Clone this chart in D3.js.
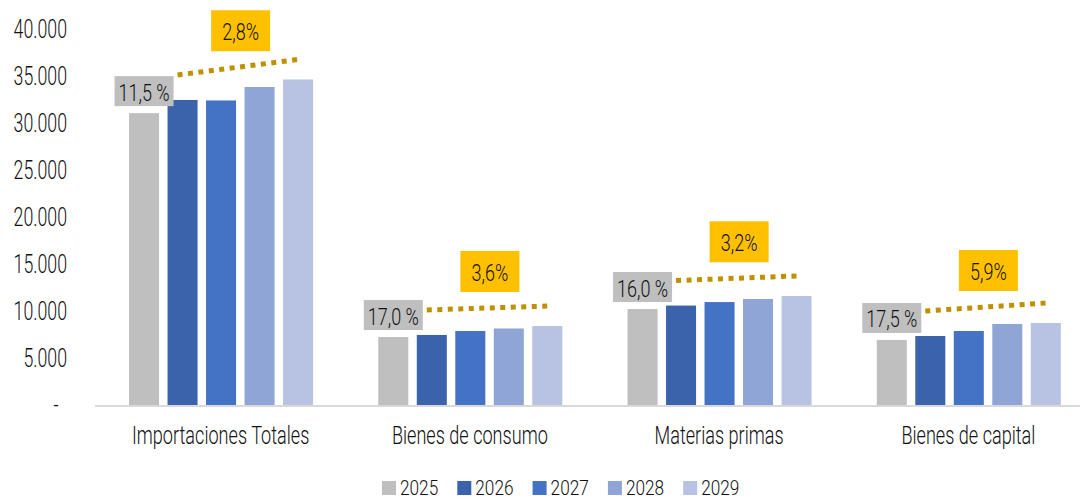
<!DOCTYPE html>
<html>
<head>
<meta charset="utf-8">
<script src="https://cdn.jsdelivr.net/npm/d3@7"></script>
<style>
  body { margin: 0; background: #fff; }
  svg text { font-family: "Roboto", "Liberation Sans", sans-serif; font-weight: 300; fill: #111; }
</style>
</head>
<body>
<div id="chart"></div>
<script>
// chart data
const categories = ['Importaciones Totales', 'Bienes de consumo', 'Materias primas', 'Bienes de capital'];
const years = ['2025', '2026', '2027', '2028', '2029'];
const values = [
  [31050, 32450, 32400, 33830, 34630],
  [7230, 7450, 7870, 8140, 8400],
  [10210, 10580, 10950, 11280, 11600],
  [6920, 7340, 7870, 8620, 8720]
];
const shareLabels = ['11,5 %', '17,0 %', '16,0 %', '17,5 %'];
const growthLabels = ['2,8%', '3,6%', '3,2%', '5,9%'];
const yTicks = [0, 5000, 10000, 15000, 20000, 25000, 30000, 35000, 40000];
const yTickLabels = ['-', '5.000', '10.000', '15.000', '20.000', '25.000', '30.000', '35.000', '40.000'];
const colors = ['#bfbfbf', '#3a63ac', '#4472c4', '#8fa5d6', '#b8c3e3'];

const width = 1080, height = 499;
const squeeze = 0.71; // no condensed font installed, so squeeze horizontally

const svg = d3.select('#chart').append('svg')
  .attr('width', width)
  .attr('height', height);

// text squeezed around its own anchor point
function label(parent, x, y, str, size, anchor, sx) {
  return parent.append('text')
    .attr('transform', `translate(${x},${y}) scale(${sx || squeeze},1)`)
    .attr('text-anchor', anchor || 'middle')
    .attr('dominant-baseline', 'central')
    .attr('font-size', size)
    .text(str);
}

const y = d3.scaleLinear().domain([0, 40000]).range([405, 29]);
const x0 = d3.scaleBand().domain(categories).range([96, 1093]);
const x1 = d3.scaleBand().domain(years)
  .range([28.8, 28.8 + 192.5])
  .paddingInner(0.22)
  .paddingOuter(0.11);

// y axis labels (no line)
const yAxis = svg.append('g')
  .attr('transform', 'translate(67,0)')
  .call(d3.axisLeft(y).tickValues(yTicks).tickSize(0).tickPadding(0)
    .tickFormat((d, i) => yTickLabels[i]));
yAxis.select('.domain').remove();
yAxis.selectAll('text')
  .attr('font-size', 25)
  .attr('fill', '#111')
  .attr('font-family', null)
  .attr('transform', `scale(${squeeze},1)`)
  .attr('dx', d => d === 0 ? -12 : 0);

// baseline
svg.append('line')
  .attr('x1', 95).attr('x2', 1080)
  .attr('y1', y(0) + 1).attr('y2', y(0) + 1)
  .attr('stroke', '#d9d9d9')
  .attr('stroke-width', 2);

// bars
const groups = svg.selectAll('g.cat')
  .data(categories)
  .join('g')
  .attr('class', 'cat')
  .attr('transform', d => `translate(${x0(d)},0)`);

groups.selectAll('rect')
  .data((d, i) => values[i].map((v, j) => ({ year: years[j], v, j })))
  .join('rect')
  .attr('x', d => x1(d.year))
  .attr('width', x1.bandwidth())
  .attr('y', d => y(d.v))
  .attr('height', d => y(0) - y(d.v))
  .attr('fill', d => colors[d.j]);

// category labels
svg.append('g')
  .attr('transform', `translate(0,${y(0)})`)
  .call(d3.axisBottom(x0).tickSize(0).tickPadding(21))
  .call(g => g.select('.domain').remove())
  .selectAll('text')
  .attr('font-size', 25.5)
  .attr('fill', '#111')
  .attr('font-family', null)
  .attr('transform', `scale(${squeeze},1)`);

// annotations: share box, trend line, growth box
categories.forEach((c, i) => {
  const g = svg.append('g').attr('transform', `translate(${x0(c)},0)`);
  const v = values[i];
  const cx25 = x1('2025') + x1.bandwidth() / 2;
  const boxW = 59, boxH = 30;
  const boxBottom = y(v[0]) - 7;
  g.append('rect')
    .attr('x', cx25 - boxW / 2).attr('y', boxBottom - boxH)
    .attr('width', boxW).attr('height', boxH)
    .attr('fill', '#bfbfbf');
  label(g, cx25, boxBottom - boxH / 2 + 1, shareLabels[i], 24, 'middle', 0.75);

  const lx1 = cx25 + boxW / 2 + 4;
  const ly1 = y(v[1]) - 25;
  const lx2 = x1('2029') + x1.bandwidth() / 2;
  const ly2 = y(v[4]) - 20;
  g.append('line')
    .attr('x1', lx1).attr('y1', ly1)
    .attr('x2', lx2).attr('y2', ly2)
    .attr('stroke', '#bf9000')
    .attr('stroke-width', 5)
    .attr('stroke-dasharray', '5 5.5');

  const gW = 59, gH = 41;
  const gcx = x0.bandwidth() / 2 + 20;
  const gBottom = (ly1 + ly2) / 2 - 16;
  g.append('rect')
    .attr('x', gcx - gW / 2).attr('y', gBottom - gH)
    .attr('width', gW).attr('height', gH)
    .attr('fill', '#ffc000');
  label(g, gcx, gBottom - gH / 2 + 1, growthLabels[i], 24, 'middle', 0.75);
});

// legend
const legend = svg.append('g').attr('transform', 'translate(382,481)');
years.forEach((yr, i) => {
  const item = legend.append('g').attr('transform', `translate(${i * 75.3},0)`);
  item.append('rect')
    .attr('width', 14).attr('height', 14)
    .attr('fill', colors[i]);
  label(item, 18, 7, yr, 21, 'start', 0.82);
});
</script>
</body>
</html>
